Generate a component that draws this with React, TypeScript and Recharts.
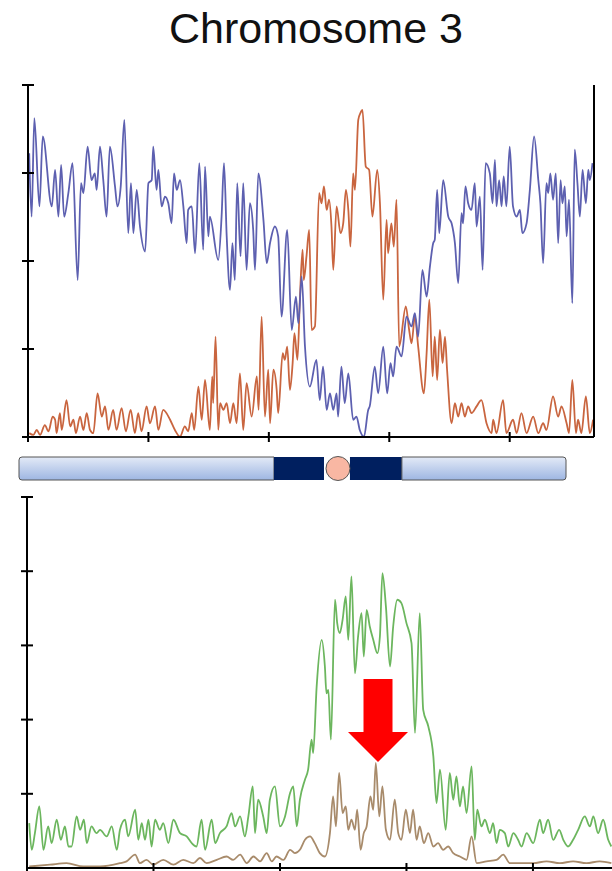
import React from 'react';
import { LineChart, Line, XAxis, YAxis, BarChart, Bar, ReferenceDot } from 'recharts';

// positions along chromosome 3 (Mb) paired with signal level (% of axis)
const BLUE_TRACE = [
  [0.4, 80.6], [1.2, 62.6], [2.1, 90.6], [3.8, 65.5], [4.9, 85.4], [7.9, 65.5], [9.0, 75.9], [10.1, 62.6],
  [11.0, 77.3], [12.0, 62.6], [13.4, 69.3], [14.8, 77.8], [16.5, 44.6], [17.6, 72.1], [18.4, 69.3], [19.8, 82.5],
  [21.1, 73.0], [22.2, 74.9], [22.8, 70.2], [23.9, 82.5], [25.0, 73.0], [26.1, 62.6], [27.2, 82.5], [28.9, 71.2],
  [29.7, 65.5], [30.8, 71.2], [32.0, 90.1], [33.3, 57.9], [34.2, 72.1], [35.0, 57.9], [36.1, 70.2], [37.2, 59.8],
  [38.9, 52.7], [40.0, 72.1], [41.1, 73.0], [41.6, 82.5], [42.7, 70.2], [43.3, 75.9], [44.4, 65.5], [45.5, 68.3],
  [46.6, 66.4], [47.7, 60.7], [48.5, 74.9], [49.4, 70.2], [50.5, 73.0], [51.6, 65.5], [52.7, 55.1], [53.2, 64.5],
  [54.4, 65.5], [55.5, 52.2], [56.9, 77.8], [58.2, 53.2], [58.8, 76.8], [59.9, 57.0], [60.4, 62.6], [63.2, 50.3],
  [64.3, 62.6], [65.1, 77.8], [66.0, 57.0], [67.1, 41.8], [67.9, 55.1], [68.7, 44.6], [69.5, 72.1], [70.6, 51.3],
  [71.5, 72.1], [72.6, 47.5], [73.7, 66.4], [74.8, 58.8], [75.4, 47.5], [76.5, 74.9], [78.2, 61.7], [79.3, 49.4],
  [80.4, 55.1], [82.0, 59.8], [83.1, 57.0], [84.2, 34.2], [86.1, 58.8], [87.6, 30.4], [89.0, 39.9], [89.8, 32.3],
  [90.9, 45.6], [92.0, 25.7], [93.6, 14.3], [95.8, 21.9], [96.9, 10.5], [98.0, 20.0], [99.2, 7.7], [100.3, 12.4],
  [101.4, 7.7], [102.5, 12.4], [103.0, 5.8], [104.1, 20.0], [105.2, 9.6], [106.4, 18.1], [108.0, 4.9], [109.1, 5.8],
  [110.2, 2.0], [111.6, 0.1], [113.0, 7.7], [113.5, 8.7], [115.2, 20.0], [116.3, 12.4], [118.0, 25.7], [119.3, 12.4],
  [120.4, 21.0], [121.3, 17.2], [122.4, 25.7], [124.1, 22.9], [125.7, 34.2], [127.4, 31.4], [128.5, 35.2], [129.6, 28.5],
  [131.0, 47.5], [132.4, 39.9], [133.5, 48.4], [134.6, 55.1], [135.1, 56.0], [135.9, 70.2], [136.6, 57.9], [137.9, 73.0],
  [139.6, 62.6], [140.7, 60.7], [141.8, 55.1], [142.9, 43.7], [144.0, 63.6], [144.5, 60.7], [145.3, 71.2], [146.2, 66.4],
  [147.3, 64.5], [148.4, 72.1], [149.0, 59.8], [150.1, 68.3], [151.0, 47.5], [152.0, 77.8], [153.4, 74.9], [154.3, 66.4],
  [155.1, 78.7], [155.6, 65.5], [156.5, 73.0], [157.3, 65.5], [158.0, 74.0], [158.9, 65.5], [160.0, 82.5], [161.1, 65.5],
  [162.3, 62.6], [163.4, 64.5], [164.2, 57.9], [165.6, 60.7], [166.7, 70.2], [168.1, 85.4], [169.5, 73.0], [170.2, 66.4],
  [171.1, 49.4], [172.2, 72.1], [172.8, 69.3], [173.5, 74.9], [174.4, 67.4], [175.3, 74.9], [176.1, 55.1], [176.9, 73.0],
  [177.5, 66.4], [178.3, 71.2], [178.9, 57.0], [179.7, 67.4], [180.8, 38.0], [181.6, 81.6], [182.5, 72.1], [183.3, 62.6],
  [184.2, 75.9], [185.3, 66.4], [186.1, 75.9], [186.6, 73.0], [187.5, 77.8],
];

const ORANGE_TRACE = [
  [0.4, 1.1], [1.8, 0.6], [2.9, 2.0], [4.0, 0.6], [5.6, 3.4], [6.8, 1.6], [8.2, 5.8], [9.0, 4.9],
  [9.5, 1.1], [10.6, 6.8], [11.2, 2.0], [12.8, 10.5], [14.0, 3.0], [15.1, 4.9], [15.9, 1.1], [17.3, 5.8],
  [18.4, 2.0], [19.5, 6.8], [20.6, 2.0], [21.7, 1.1], [23.1, 12.4], [24.5, 5.8], [25.6, 8.7], [26.7, 2.0],
  [28.3, 7.7], [29.4, 2.0], [31.1, 8.2], [32.5, 1.6], [34.1, 7.7], [35.5, 1.1], [36.6, 6.8], [37.7, 1.6],
  [39.4, 8.7], [40.5, 3.9], [42.2, 8.7], [43.3, 2.0], [44.9, 7.7], [47.2, 4.9], [48.8, 2.0], [50.5, 0.1],
  [52.1, 3.0], [53.2, 1.6], [54.4, 6.8], [55.2, 2.0], [56.6, 14.3], [57.7, 4.9], [58.8, 16.2], [60.4, 2.0],
  [61.2, 17.2], [61.5, 9.6], [62.3, 28.5], [63.2, 2.0], [63.8, 9.6], [64.9, 7.7], [66.0, 9.6], [67.1, 3.9],
  [68.2, 9.6], [69.3, 3.9], [70.4, 18.1], [71.5, 2.0], [72.6, 15.3], [74.3, 5.8], [76.0, 17.2], [76.6, 7.7],
  [77.6, 34.2], [78.7, 5.8], [79.8, 19.1], [80.4, 3.9], [81.5, 19.1], [82.6, 13.4], [83.1, 6.8], [84.6, 23.8],
  [85.3, 21.9], [86.1, 25.7], [87.0, 13.4], [87.9, 21.0], [88.5, 29.5], [89.5, 21.9], [90.3, 39.0], [91.2, 53.2],
  [91.6, 44.6], [92.5, 51.3], [93.4, 58.8], [94.2, 30.4], [95.3, 31.4], [96.7, 69.3], [97.5, 66.4], [98.3, 71.2],
  [99.2, 64.5], [100.0, 67.4], [100.8, 59.8], [101.4, 47.5], [102.5, 65.5], [103.8, 57.9], [104.7, 60.7], [105.6, 70.2],
  [106.4, 64.5], [107.1, 54.1], [108.0, 74.9], [108.6, 70.2], [109.7, 90.1], [110.4, 92.0], [111.1, 92.9], [112.2, 76.8],
  [113.3, 75.9], [114.4, 62.6], [116.0, 75.9], [116.9, 66.4], [118.0, 39.0], [119.1, 61.7], [119.6, 52.2], [120.7, 60.7],
  [121.5, 54.1], [122.4, 67.4], [123.3, 25.7], [125.5, 37.1], [126.6, 30.4], [127.4, 26.6], [128.5, 34.2], [129.6, 25.7],
  [131.5, 12.4], [132.4, 23.8], [133.3, 39.0], [134.4, 17.2], [135.1, 28.5], [135.9, 16.2], [136.8, 30.4], [137.7, 21.0],
  [138.5, 28.5], [139.2, 19.1], [140.7, 3.9], [141.8, 9.6], [142.9, 5.8], [144.0, 9.6], [145.1, 5.8], [146.2, 8.7],
  [147.3, 6.8], [149.0, 8.7], [150.6, 10.5], [152.3, 3.9], [154.0, 1.1], [154.5, 4.9], [155.6, 1.1], [157.8, 10.5],
  [158.9, 1.1], [161.1, 4.9], [162.3, 1.1], [163.9, 6.8], [165.6, 1.1], [167.8, 5.8], [169.5, 1.1], [171.1, 3.9],
  [172.2, 2.0], [174.4, 11.5], [176.1, 5.8], [177.2, 8.7], [178.9, 3.9], [179.7, 1.1], [180.8, 16.2], [182.0, 1.1],
  [182.7, 4.9], [183.8, 1.1], [185.3, 11.5], [186.6, 1.1], [187.7, 4.9],
];

const GREEN_TRACE = [
  [0.7, 12.1], [1.5, 4.9], [2.5, 9.4], [3.9, 16.6], [5.2, 4.9], [6.7, 11.2], [7.8, 6.7], [9.4, 13.0],
  [10.7, 7.6], [12.0, 11.2], [13.1, 5.8], [14.1, 5.8], [15.7, 13.9], [16.8, 10.3], [18.0, 13.0], [18.9, 6.7],
  [20.4, 11.2], [22.0, 9.4], [23.1, 10.3], [25.2, 8.5], [26.8, 11.2], [28.4, 4.9], [29.4, 10.3], [31.0, 13.0],
  [32.0, 8.5], [34.2, 15.7], [35.2, 7.6], [36.3, 12.1], [37.3, 7.6], [38.4, 13.0], [39.4, 5.8], [40.5, 13.0],
  [42.0, 10.3], [43.1, 12.1], [44.7, 6.7], [46.3, 13.0], [48.4, 9.4], [50.5, 8.5], [52.1, 6.7], [53.6, 5.8],
  [55.2, 13.0], [56.3, 4.9], [58.4, 13.0], [59.5, 6.7], [61.0, 9.4], [63.1, 11.2], [64.7, 14.8], [65.8, 11.2],
  [67.4, 13.9], [68.9, 8.5], [70.0, 13.9], [71.4, 22.0], [72.1, 9.4], [73.1, 18.4], [74.7, 13.9], [75.8, 9.4],
  [76.8, 18.4], [78.4, 22.0], [80.0, 11.2], [81.6, 13.9], [83.2, 20.2], [84.2, 22.0], [85.3, 11.2], [86.3, 18.4],
  [87.9, 23.8], [88.9, 26.5], [90.0, 34.6], [90.5, 31.0], [91.6, 48.9], [93.2, 61.5], [94.2, 54.3], [94.7, 47.1],
  [95.3, 48.0], [96.1, 34.6], [97.4, 72.3], [98.1, 66.0], [98.9, 63.3], [99.8, 66.9], [100.8, 73.2], [101.6, 61.5],
  [102.6, 78.6], [103.7, 52.5], [104.7, 62.4], [105.8, 68.7], [106.5, 57.0], [107.4, 69.6], [108.4, 65.1], [109.5, 61.5],
  [110.8, 57.9], [111.6, 62.4], [112.4, 79.5], [113.5, 70.5], [114.8, 54.3], [115.8, 65.1], [117.1, 72.3], [118.4, 71.4],
  [120.0, 66.0], [121.6, 60.6], [122.7, 36.4], [124.2, 68.7], [125.3, 42.6], [126.9, 38.2], [128.5, 30.1], [129.5, 17.5],
  [130.6, 26.5], [132.4, 10.3], [133.7, 25.6], [134.8, 18.4], [135.8, 24.7], [136.9, 16.6], [137.9, 22.0], [139.0, 14.8],
  [140.6, 27.4], [141.6, 7.6], [142.4, 15.7], [143.7, 11.2], [144.8, 13.0], [146.4, 9.4], [147.4, 12.1], [148.5, 6.7],
  [149.5, 10.3], [151.1, 9.4], [152.2, 5.8], [153.8, 9.4], [155.3, 7.6], [156.4, 5.8], [158.0, 9.4], [160.1, 6.7],
  [162.2, 13.0], [163.2, 9.4], [164.8, 13.0], [166.4, 7.6], [168.3, 10.3], [169.6, 7.6], [171.1, 5.8], [172.7, 7.6],
  [174.3, 10.3], [176.4, 13.9], [178.0, 11.2], [179.1, 13.9], [180.6, 9.4], [182.2, 13.0], [183.8, 7.6], [184.8, 5.8],
];

const BROWN_TRACE = [
  [0.7, 0.4], [7.3, 0.9], [12.5, 1.3], [17.8, 0.4], [23.1, 0.4], [29.4, 1.3], [31.5, 1.8], [34.2, 3.6],
  [35.7, 1.3], [37.8, 2.2], [39.9, 0.9], [43.1, 2.2], [46.3, 0.9], [49.4, 2.2], [52.6, 1.3], [54.7, 2.7],
  [56.8, 1.3], [60.0, 2.2], [63.1, 3.1], [65.2, 2.2], [67.4, 3.6], [69.5, 1.3], [71.6, 3.1], [73.7, 1.8],
  [75.8, 4.0], [77.4, 1.8], [78.9, 3.1], [81.1, 2.2], [83.2, 4.9], [84.7, 4.0], [86.3, 4.9], [87.9, 7.6],
  [89.5, 8.5], [91.0, 6.7], [92.6, 4.0], [94.2, 3.1], [95.8, 9.4], [96.8, 19.3], [97.7, 11.2], [98.7, 25.6],
  [99.8, 14.8], [100.8, 16.6], [101.6, 10.3], [102.6, 13.0], [103.7, 10.3], [104.4, 15.7], [105.5, 4.9], [106.5, 9.4],
  [107.4, 11.2], [108.6, 19.3], [109.5, 15.7], [110.3, 28.3], [111.4, 13.9], [112.4, 22.0], [113.5, 10.3], [114.8, 7.6],
  [116.3, 18.4], [117.4, 9.4], [118.4, 7.6], [119.8, 15.7], [121.1, 9.4], [122.1, 15.7], [123.2, 7.6], [124.2, 11.2],
  [125.5, 6.7], [126.9, 9.4], [128.5, 5.8], [130.0, 6.7], [131.6, 4.9], [133.2, 5.8], [134.8, 4.0], [136.9, 3.1],
  [139.0, 2.2], [140.6, 8.5], [142.2, 1.3], [145.3, 1.8], [148.5, 2.2], [150.6, 3.6], [152.7, 1.3], [155.9, 1.3],
  [160.1, 1.3], [164.3, 1.8], [168.5, 1.3], [172.7, 1.8], [176.9, 1.3], [181.1, 1.8], [184.8, 1.3],
];

const TOP_X_TICKS = [0, 40, 80, 120, 160];
const TOP_LEFT_TICKS = [0, 25, 50, 75, 100];
const TOP_RIGHT_TICKS = [0, 1, 2, 3, 4, 5];
const BOTTOM_X_TICKS = [0, 40, 80, 120, 160];
const BOTTOM_Y_TICKS = [0, 20, 40, 60, 80, 100];

// ideogram segments in Mb
const IDEOGRAM = [{ name: 'chr3', pArm: 92.3, pBand: 18.1, cen: 9.4, qBand: 18.8, qArm: 59.4 }];
const CENTROMERE_POS = 115.1;
const ARROW_TARGET = { pos: 111.0, value: 28.6 };

const toPoints = (trace: number[][]) => trace.map(([pos, v]) => ({ pos, v }));

const CrossTickX = (props: any) => (
  <line x1={props.x} x2={props.x} y1={props.y - 5} y2={props.y + 5} stroke="#000" strokeWidth={2} />
);
const CrossTickY = (props: any) => (
  <line x1={props.x - 6} x2={props.x + 6} y1={props.y} y2={props.y} stroke="#000" strokeWidth={2} />
);

const axisLine = { stroke: '#000', strokeWidth: 2 };

const DownArrow = (props: any) => {
  const { cx, cy } = props;
  const d = `M${cx},${cy} L${cx - 30},${cy - 30} L${cx - 14.5},${cy - 30} L${cx - 14.5},${cy - 83} L${cx + 14.5},${cy - 83} L${cx + 14.5},${cy - 30} L${cx + 30},${cy - 30} Z`;
  return <path d={d} fill="#ff0000" />;
};

const CentromereDot = (props: any) => (
  <circle cx={props.cx + 1} cy={props.cy} r={12} fill="#f9b7a3" stroke="#555" strokeWidth={1} />
);

export default function App() {
  return (
    <div style={{ position: 'absolute', left: 0, top: 0, width: 612, height: 871, background: '#fff', overflow: 'hidden' }}>
      <svg width={612} height={60} style={{ position: 'absolute', left: 0, top: 0 }}>
        <text x={316} y={43} textAnchor="middle" fontFamily="'Liberation Sans', Arial, sans-serif" fontSize={43} fill="#111">
          Chromosome 3
        </text>
      </svg>

      {/* top panel: two complementary signals */}
      <div style={{ position: 'absolute', left: 0, top: 60 }}>
        <LineChart width={612} height={400} margin={{ top: 25, right: 8, bottom: 13, left: 18 }}>
          <XAxis type="number" dataKey="pos" domain={[0, 188]} ticks={TOP_X_TICKS} height={10}
            tickSize={0} tickMargin={0} tick={CrossTickX} axisLine={axisLine} allowDuplicatedCategory={false} />
          <YAxis yAxisId="left" domain={[0, 100]} ticks={TOP_LEFT_TICKS} width={10}
            tickSize={0} tickMargin={0} tick={CrossTickY} axisLine={axisLine} />
          <YAxis yAxisId="right" orientation="right" domain={[0, 5]} ticks={TOP_RIGHT_TICKS} width={10}
            tickSize={0} tickMargin={0} tick={CrossTickY} axisLine={axisLine} />
          <Line yAxisId="left" data={toPoints(ORANGE_TRACE)} dataKey="v" stroke="#c9653f" strokeWidth={1.8}
            dot={false} type="monotone" isAnimationActive={false} />
          <Line yAxisId="left" data={toPoints(BLUE_TRACE)} dataKey="v" stroke="#5d60b0" strokeWidth={1.8}
            dot={false} type="monotone" isAnimationActive={false} />
        </LineChart>
      </div>

      {/* chromosome ideogram */}
      <div style={{ position: 'absolute', left: 0, top: 450 }}>
        <BarChart width={612} height={40} data={IDEOGRAM} layout="vertical" barCategoryGap={0}
          margin={{ top: 7, right: 46, bottom: 10, left: 19 }}>
          <defs>
            <linearGradient id="armFill" x1="0" y1="0" x2="0" y2="1">
              <stop offset="0%" stopColor="#e3eaf7" />
              <stop offset="100%" stopColor="#9eb6e2" />
            </linearGradient>
          </defs>
          <XAxis type="number" domain={[0, 198]} hide />
          <YAxis type="category" dataKey="name" hide />
          <Bar dataKey="pArm" stackId="chr" fill="url(#armFill)" stroke="#555" radius={[3, 0, 0, 3]} isAnimationActive={false} />
          <Bar dataKey="pBand" stackId="chr" fill="#001f5f" isAnimationActive={false} />
          <Bar dataKey="cen" stackId="chr" fill="#ffffff" isAnimationActive={false} />
          <Bar dataKey="qBand" stackId="chr" fill="#001f5f" isAnimationActive={false} />
          <Bar dataKey="qArm" stackId="chr" fill="url(#armFill)" stroke="#555" radius={[0, 3, 3, 0]} isAnimationActive={false} />
          <ReferenceDot x={CENTROMERE_POS} y="chr3" r={12} shape={CentromereDot} ifOverflow="visible" />
        </BarChart>
      </div>

      {/* bottom panel */}
      <div style={{ position: 'absolute', left: 0, top: 480 }}>
        <LineChart width={612} height={391} margin={{ top: 17, right: 0, bottom: 0, left: 17 }}>
          <XAxis type="number" dataKey="pos" domain={[0, 185]} ticks={BOTTOM_X_TICKS} height={3}
            tickSize={0} tickMargin={0} tick={CrossTickX} axisLine={axisLine} allowDuplicatedCategory={false} />
          <YAxis domain={[0, 100]} ticks={BOTTOM_Y_TICKS} width={10}
            tickSize={0} tickMargin={0} tick={CrossTickY} axisLine={axisLine} />
          <Line data={toPoints(GREEN_TRACE)} dataKey="v" stroke="#6cb65e" strokeWidth={1.8}
            dot={false} type="monotone" isAnimationActive={false} />
          <Line data={toPoints(BROWN_TRACE)} dataKey="v" stroke="#a88b6b" strokeWidth={1.8}
            dot={false} type="monotone" isAnimationActive={false} />
          <ReferenceDot x={ARROW_TARGET.pos} y={ARROW_TARGET.value} r={1} shape={DownArrow} ifOverflow="visible" />
        </LineChart>
      </div>
    </div>
  );
}
